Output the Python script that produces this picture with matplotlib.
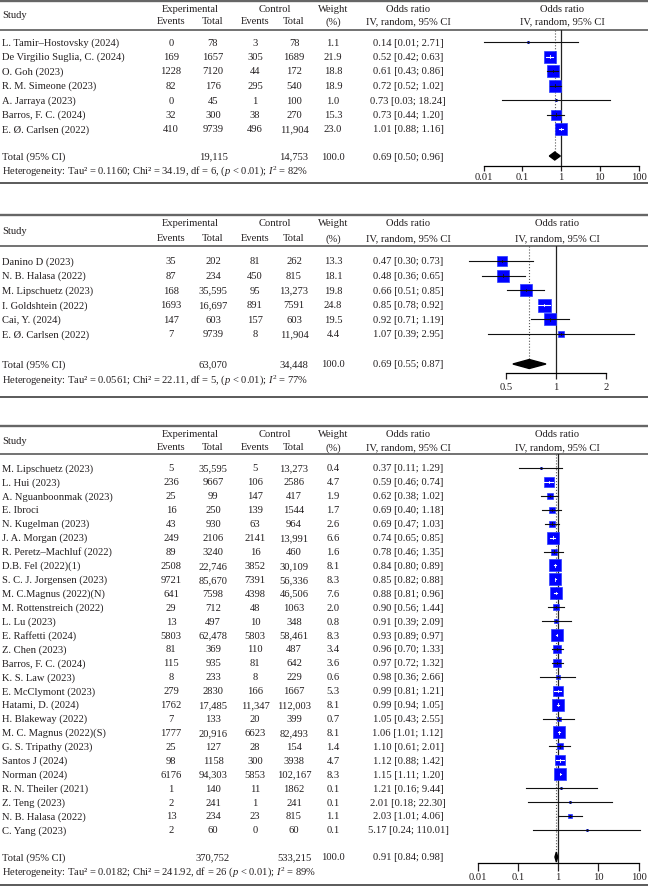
import numpy as np
import matplotlib
matplotlib.use("Agg")
import matplotlib.pyplot as plt
from matplotlib.ticker import FixedLocator, NullLocator

plt.rcParams['font.family'] = ['Liberation Serif', 'DejaVu Serif']
plt.rcParams['mathtext.fontset'] = 'custom'
plt.rcParams['mathtext.rm'] = 'Liberation Serif'
plt.rcParams['mathtext.it'] = 'Liberation Serif:italic'

# ---- data: panel 1 ----
studies1 = ["L. Tamir–Hostovsky (2024)", "De Virgilio Suglia, C. (2024)", "O. Goh (2023)",
            "R. M. Simeone (2023)", "A. Jarraya (2023)", "Barros, F. C. (2024)", "E. Ø. Carlsen (2022)"]
ev_e1 = [0, 169, 1228, 82, 0, 32, 410]
n_e1 = [78, 1657, 7120, 176, 45, 300, 9739]
ev_c1 = [3, 305, 44, 295, 1, 38, 496]
n_c1 = [78, 1689, 172, 540, 100, 270, 11904]
w1 = [1.1, 21.9, 18.8, 18.9, 1.0, 15.3, 23.0]
or1 = [0.14, 0.52, 0.61, 0.72, 0.73, 0.73, 1.01]
lo1 = [0.01, 0.42, 0.43, 0.52, 0.03, 0.44, 0.88]
hi1 = [2.71, 0.63, 0.86, 1.02, 18.24, 1.20, 1.16]
total1 = (19115, 14753, 0.69, 0.50, 0.96)
het1 = r"Heterogeneity: Tau² = 0.1160; Chi² = 34.19, df = 6, ($p$ < 0.01); $I^2$ = 82%"

# ---- data: panel 2 ----
studies2 = ["Danino D (2023)", "N. B. Halasa (2022)", "M. Lipschuetz (2023)",
            "I. Goldshtein (2022)", "Cai, Y. (2024)", "E. Ø. Carlsen (2022)"]
ev_e2 = [35, 87, 168, 1693, 147, 7]
n_e2 = [202, 234, 35595, 16697, 603, 9739]
ev_c2 = [81, 450, 95, 891, 157, 8]
n_c2 = [262, 815, 13273, 7591, 603, 11904]
w2 = [13.3, 18.1, 19.8, 24.8, 19.5, 4.4]
or2 = [0.47, 0.48, 0.66, 0.85, 0.92, 1.07]
lo2 = [0.30, 0.36, 0.51, 0.78, 0.71, 0.39]
hi2 = [0.73, 0.65, 0.85, 0.92, 1.19, 2.95]
total2 = (63070, 34448, 0.69, 0.55, 0.87)
het2 = r"Heterogeneity: Tau² = 0.0561; Chi² = 22.11, df = 5, ($p$ < 0.01); $I^2$ = 77%"

# ---- data: panel 3 ----
studies3 = ["M. Lipschuetz (2023)", "L. Hui (2023)", "A. Nguanboonmak (2023)", "E. Ibroci",
            "N. Kugelman (2023)", "J. A. Morgan (2023)", "R. Peretz–Machluf (2022)", "D.B. Fel (2022)(1)",
            "S. C. J. Jorgensen (2023)", "M. C.Magnus (2022)(N)", "M. Rottenstreich (2022)", "L. Lu (2023)",
            "E. Raffetti (2024)", "Z. Chen (2023)", "Barros, F. C. (2024)", "K. S. Law (2023)",
            "E. McClymont (2023)", "Hatami, D. (2024)", "H. Blakeway (2022)", "M. C. Magnus (2022)(S)",
            "G. S. Tripathy (2023)", "Santos J (2024)", "Norman (2024)", "R. N. Theiler (2021)",
            "Z. Teng (2023)", "N. B. Halasa (2022)", "C. Yang (2023)"]
ev_e3 = [5, 236, 25, 16, 43, 249, 89, 2508, 9721, 641, 29, 13, 5803, 81, 115, 8, 279, 1762, 7, 1777,
         25, 98, 6176, 1, 2, 13, 2]
n_e3 = [35595, 9667, 99, 250, 930, 2106, 3240, 22746, 85670, 7598, 712, 497, 62478, 369, 935, 233,
        2830, 17485, 133, 20916, 127, 1158, 94303, 140, 241, 234, 60]
ev_c3 = [5, 106, 147, 139, 63, 2141, 16, 3852, 7391, 4398, 48, 10, 5803, 110, 81, 8, 166, 11347, 20,
         6623, 28, 300, 5853, 11, 1, 23, 0]
n_c3 = [13273, 2586, 417, 1544, 964, 13991, 460, 30109, 56336, 46506, 1063, 348, 58461, 487, 642, 229,
        1667, 112003, 399, 82493, 154, 3938, 102167, 1862, 241, 815, 60]
w3 = [0.4, 4.7, 1.9, 1.7, 2.6, 6.6, 1.6, 8.1, 8.3, 7.6, 2.0, 0.8, 8.3, 3.4, 3.6, 0.6, 5.3, 8.1, 0.7,
      8.1, 1.4, 4.7, 8.3, 0.1, 0.1, 1.1, 0.1]
or3 = [0.37, 0.59, 0.62, 0.69, 0.69, 0.74, 0.78, 0.84, 0.85, 0.88, 0.90, 0.91, 0.93, 0.96, 0.97, 0.98,
       0.99, 0.99, 1.05, 1.06, 1.10, 1.12, 1.15, 1.21, 2.01, 2.03, 5.17]
lo3 = [0.11, 0.46, 0.38, 0.40, 0.47, 0.65, 0.46, 0.80, 0.82, 0.81, 0.56, 0.39, 0.89, 0.70, 0.72, 0.36,
       0.81, 0.94, 0.43, 1.01, 0.61, 0.88, 1.11, 0.16, 0.18, 1.01, 0.24]
hi3 = [1.29, 0.74, 1.02, 1.18, 1.03, 0.85, 1.35, 0.89, 0.88, 0.96, 1.44, 2.09, 0.97, 1.33, 1.32, 2.66,
       1.21, 1.05, 2.55, 1.12, 2.01, 1.42, 1.20, 9.44, 22.30, 4.06, 110.01]
total3 = (370752, 533215, 0.91, 0.84, 0.98)
het3 = r"Heterogeneity: Tau² = 0.0182; Chi² = 241.92, df = 26 ($p$ < 0.01); $I^2$ = 89%"

W, H = 648, 887
fig = plt.figure(figsize=(W / 100, H / 100), dpi=100)
bg = fig.add_axes([0, 0, 1, 1])
bg.set_xlim(0, W)
bg.set_ylim(H, 0)
bg.axis('off')

FS = 7.6
TXT = '#231f20'
BLUE = '#0000ff'

# column centres (px)
X_STUDY = 2
X_EV_E, X_N_E, X_EV_C, X_N_C, X_W, X_OR = 171, 213, 255, 294, 333, 408


def fmt_n(v):
    return f"{v:,}" if v >= 10000 else str(v)


def txt(x, y, s, ha='center', **kw):
    bg.text(x, y, s, ha=ha, va='center', fontsize=FS, color=TXT, **kw)


def rule(y, color='#5a5a5a', lw=1.3):
    bg.plot([0, W], [y, y], color=color, lw=lw, solid_capstyle='butt')


def draw_panel(studies, ev_e, n_e, ev_c, n_c, w, odds, lo, hi, total, het, lay):
    # header
    rule(lay['top'], '#666666', 1.7)
    h1, h2 = lay['h1'], lay['h2']
    txt(X_STUDY, (h1 + h2) / 2, "Study", ha='left')
    txt((X_EV_E + X_N_E) / 2 - 2, h1, "Experimental")
    txt((X_EV_C + X_N_C) / 2, h1, "Control")
    txt(X_W, h1, "Weight")
    txt(X_W, h2, "(%)")
    txt(X_OR, h1, "Odds ratio")
    txt(X_OR, h2, "IV, random, 95% CI")
    txt(lay['rx'], h1, "Odds ratio")
    txt(lay['rx'], h2, "IV, random, 95% CI")
    for x, lab in zip([X_EV_E, X_N_E, X_EV_C, X_N_C], ["Events", "Total", "Events", "Total"]):
        txt(x, h2, lab)
    rule(lay['hrule'], '#5a5a5a', 1.2)

    # table rows
    ys = lay['row0'] + lay['dy'] * np.arange(len(studies))
    for i, y in enumerate(ys):
        txt(X_STUDY, y, studies[i], ha='left')
        txt(X_EV_E, y, fmt_n(ev_e[i]))
        txt(X_N_E, y, fmt_n(n_e[i]))
        txt(X_EV_C, y, fmt_n(ev_c[i]))
        txt(X_N_C, y, fmt_n(n_c[i]))
        txt(X_W, y, f"{w[i]:.1f}")
        txt(X_OR, y, f"{odds[i]:.2f} [{lo[i]:.2f}; {hi[i]:.2f}]")
    ty = lay['tot_y']
    t_e, t_c, t_or, t_lo, t_hi = total
    txt(X_STUDY, ty, "Total (95% CI)", ha='left')
    txt(X_N_E, ty, fmt_n(t_e))
    txt(X_N_C, ty, fmt_n(t_c))
    txt(X_W, ty, "100.0")
    txt(X_OR, ty, f"{t_or:.2f} [{t_lo:.2f}; {t_hi:.2f}]")
    txt(X_STUDY, lay['het_y'], het, ha='left')
    rule(lay['bottom'], '#5a5a5a', 1.4)

    # forest plot axes (y in pixel units so rows line up with the table)
    a, b = 455, 648
    c, ppd = lay['center'], lay['ppd']
    ay, hr = lay['axis_y'], lay['hrule']
    ax = fig.add_axes([a / W, 1 - ay / H, (b - a) / W, (ay - hr) / H])
    ax.patch.set_alpha(0)
    ax.set_xscale('log')
    ax.set_xlim(10 ** ((a - c) / ppd), 10 ** ((b - c) / ppd))
    ax.set_ylim(ay, hr)
    for s in ['top', 'left', 'right']:
        ax.spines[s].set_visible(False)
    ax.spines['bottom'].set_bounds(lay['ticks'][0], lay['ticks'][-1])
    ax.spines['bottom'].set_linewidth(0.9)
    ax.xaxis.set_major_locator(FixedLocator(lay['ticks']))
    ax.xaxis.set_minor_locator(NullLocator())
    ax.set_xticklabels(lay['ticklabels'])
    ax.tick_params(axis='x', direction='out', length=lay['tlen'], width=0.9,
                   pad=lay['tpad'], labelsize=FS, colors=TXT)
    ax.set_yticks([])

    dh = lay['dh']
    ax.axvline(1, color='#222222', lw=0.9, zorder=2)
    ax.plot([t_or, t_or], [hr, ty - dh / 2], ls=':', color='#555555', lw=0.8, zorder=1)

    wmax = max(w)
    for i, y in enumerate(ys):
        side = max(2.2, lay['side'] * np.sqrt(w[i] / wmax))
        ax.plot(odds[i], y, marker='s', ms=side * 0.72, mfc=BLUE, mec='#2a3cff',
                mew=0.5, zorder=3, clip_on=False)
        px_lo = ax.transData.transform((lo[i], y))[0]
        px_hi = ax.transData.transform((hi[i], y))[0]
        px_or = ax.transData.transform((odds[i], y))[0]
        inside = (px_or - px_lo) < side / 2 and (px_hi - px_or) < side / 2
        col = 'white' if inside else '#111111'
        ax.plot([lo[i], hi[i]], [y, y], color=col, lw=0.8, zorder=4, clip_on=False)
        ax.plot([odds[i], odds[i]], [y - 1.2, y + 1.2], color=col, lw=0.6, zorder=4)

    ax.fill([t_lo, t_or, t_hi, t_or], [ty, ty - dh / 2, ty, ty + dh / 2],
            color='black', zorder=5)


draw_panel(studies1, ev_e1, n_e1, ev_c1, n_c1, w1, or1, lo1, hi1, total1, het1,
           dict(top=2, h1=9, h2=22, hrule=31, row0=43, dy=14.5, tot_y=157, het_y=171,
                axis_y=167, bottom=184, center=561, ppd=38.75, rx=562, side=12.5, dh=8,
                ticks=[0.01, 0.1, 1, 10, 100], ticklabels=["0.01", "0.1", "1", "10", "100"],
                tlen=3.5, tpad=1.0))

draw_panel(studies2, ev_e2, n_e2, ev_c2, n_c2, w2, or2, lo2, hi2, total2, het2,
           dict(top=216, h1=224, h2=239, hrule=247, row0=262, dy=14.6, tot_y=365, het_y=380,
                axis_y=374, bottom=398, center=556, ppd=166, rx=557, side=13, dh=9,
                ticks=[0.5, 1, 2], ticklabels=["0.5", "1", "2"],
                tlen=4.5, tpad=2.0))

draw_panel(studies3, ev_e3, n_e3, ev_c3, n_c3, w3, or3, lo3, hi3, total3, het3,
           dict(top=427, h1=435, h2=448, hrule=455, row0=469, dy=13.92, tot_y=858, het_y=872,
                axis_y=864, bottom=886, center=558, ppd=40.25, rx=557, side=12.5, dh=10,
                ticks=[0.01, 0.1, 1, 10, 100], ticklabels=["0.01", "0.1", "1", "10", "100"],
                tlen=5.5, tpad=1.0))

fig.savefig("out.png", dpi=100)
